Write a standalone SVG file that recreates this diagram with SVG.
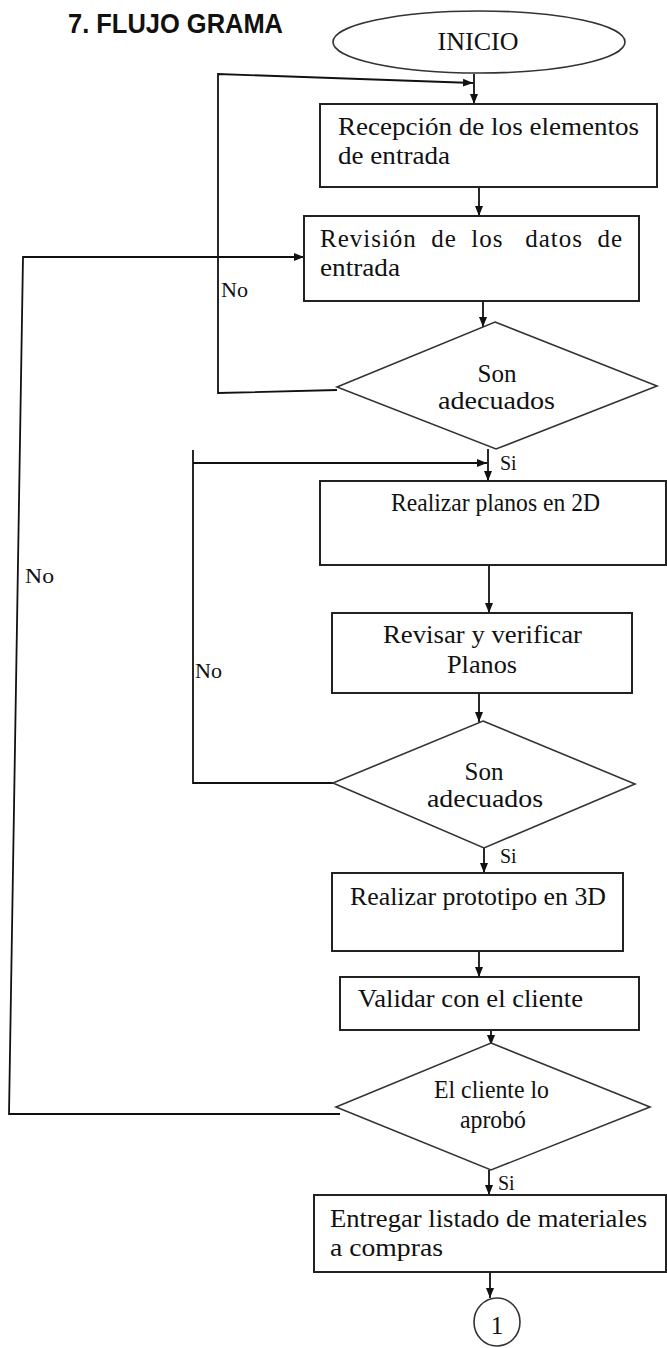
<svg xmlns="http://www.w3.org/2000/svg" width="667" height="1348" viewBox="0 0 667 1348">
<style>
.sh{fill:#fff;stroke:#222;stroke-width:2}
.dm{fill:#fff;stroke:#333;stroke-width:1.6}
.t{font-family:"Liberation Serif","Times New Roman",serif;font-size:25px;fill:#111}
.lb{font-family:"Liberation Serif","Times New Roman",serif;font-size:20px;fill:#111}
.ttl{font-family:"Liberation Sans",Arial,sans-serif;font-size:27px;font-weight:bold;fill:#111}
.c{fill:none;stroke:#111;stroke-width:1.8}
.ca{fill:none;stroke:#111;stroke-width:1.8;marker-end:url(#ah)}
</style>
<defs>
<marker id="ah" viewBox="0 0 10 10" refX="10" refY="5" markerWidth="10" markerHeight="10" markerUnits="userSpaceOnUse" orient="auto">
<path d="M0,1 L10,5 L0,9 Z" fill="#111"/>
</marker>
</defs>
<rect width="667" height="1348" fill="#fff"/>
<text class="ttl" x="68" y="33" textLength="215" lengthAdjust="spacingAndGlyphs">7. FLUJO GRAMA</text>

<g id="connectors">
<line class="ca" x1="474" y1="74" x2="474" y2="104"/>
<line class="ca" x1="479" y1="187" x2="479" y2="216"/>
<line class="ca" x1="483" y1="301" x2="483" y2="327"/>
<path class="ca" d="M337,390 L218,393 L218,74 L473,83"/>
<line class="ca" x1="488" y1="449" x2="488" y2="481"/>
<path class="c" d="M333,783 H193 V450"/>
<line class="ca" x1="193" y1="463" x2="487" y2="463"/>
<line class="ca" x1="489" y1="565" x2="489" y2="613"/>
<line class="ca" x1="479" y1="693" x2="479" y2="722"/>
<line class="ca" x1="484" y1="848" x2="484" y2="873"/>
<line class="ca" x1="479" y1="951" x2="479" y2="977"/>
<line class="ca" x1="491" y1="1030" x2="491" y2="1045"/>
<path class="ca" d="M340,1114 L9,1114 L23,257 L304,257"/>
<line class="ca" x1="489" y1="1170" x2="489" y2="1195"/>
<line class="ca" x1="490" y1="1272" x2="490" y2="1298"/>
<text class="lb" x="221" y="297" textLength="27" lengthAdjust="spacingAndGlyphs">No</text>
<text class="lb" x="25" y="583" textLength="29" lengthAdjust="spacingAndGlyphs">No</text>
<text class="lb" x="195" y="678" textLength="27" lengthAdjust="spacingAndGlyphs">No</text>
<text class="lb" x="500" y="470">Si</text>
<text class="lb" x="500" y="863">Si</text>
<text class="lb" x="498" y="1190">Si</text>
</g>

<g id="inicio">
<ellipse class="dm" cx="479" cy="42" rx="146" ry="31"/>
<text class="t" x="478" y="50" text-anchor="middle" style="font-size:26px">INICIO</text>
</g>

<g id="recepcion">
<rect class="sh" x="320" y="104" width="337" height="83"/>
<text class="t" x="338" y="135" textLength="301" lengthAdjust="spacingAndGlyphs">Recepción de los elementos</text>
<text class="t" x="338" y="164" textLength="112" lengthAdjust="spacingAndGlyphs">de entrada</text>
</g>

<g id="revision">
<rect class="sh" x="304" y="216" width="335" height="85"/>
<text class="t" x="320" y="247" textLength="302" lengthAdjust="spacing" xml:space="preserve">Revisión  de  los   datos  de</text>
<text class="t" x="320" y="276" textLength="80" lengthAdjust="spacingAndGlyphs">entrada</text>
</g>

<g id="decision1">
<polygon class="dm" points="495,322 657,386 496,449 337,387"/>
<text class="t" x="497" y="382" text-anchor="middle">Son</text>
<text class="t" x="438" y="409" textLength="117" lengthAdjust="spacingAndGlyphs">adecuados</text>
</g>

<g id="planos2d">
<rect class="sh" x="320" y="481" width="346" height="84"/>
<text class="t" x="391" y="511" textLength="209" lengthAdjust="spacingAndGlyphs">Realizar planos en 2D</text>
</g>

<g id="revisar">
<rect class="sh" x="332" y="613" width="300" height="80"/>
<text class="t" x="383" y="643" textLength="199" lengthAdjust="spacingAndGlyphs">Revisar y verificar</text>
<text class="t" x="447" y="673" textLength="70" lengthAdjust="spacingAndGlyphs">Planos</text>
</g>

<g id="decision2">
<polygon class="dm" points="483,721 635,784 484,848 333,783"/>
<text class="t" x="484" y="780" text-anchor="middle">Son</text>
<text class="t" x="427" y="807" textLength="116" lengthAdjust="spacingAndGlyphs">adecuados</text>
</g>

<g id="prototipo">
<rect class="sh" x="332" y="873" width="291" height="78"/>
<text class="t" x="350" y="905" textLength="256" lengthAdjust="spacingAndGlyphs">Realizar prototipo en 3D</text>
</g>

<g id="validar">
<rect class="sh" x="340" y="977" width="299" height="53"/>
<text class="t" x="358" y="1007" textLength="225" lengthAdjust="spacingAndGlyphs">Validar con el cliente</text>
</g>

<g id="decision3">
<polygon class="dm" points="491,1043 650,1107 491,1170 336,1107"/>
<text class="t" x="434" y="1098" textLength="115" lengthAdjust="spacingAndGlyphs">El cliente lo</text>
<text class="t" x="460" y="1128" textLength="66" lengthAdjust="spacingAndGlyphs">aprobó</text>
</g>

<g id="entregar">
<rect class="sh" x="314" y="1195" width="352" height="77"/>
<text class="t" x="330" y="1227" textLength="317" lengthAdjust="spacingAndGlyphs">Entregar listado  de materiales</text>
<text class="t" x="330" y="1256" textLength="113" lengthAdjust="spacingAndGlyphs">a compras</text>
</g>

<g id="conector1">
<ellipse class="dm" cx="497" cy="1322" rx="23" ry="24"/>
<text class="t" x="497" y="1334" text-anchor="middle">1</text>
</g>
</svg>
